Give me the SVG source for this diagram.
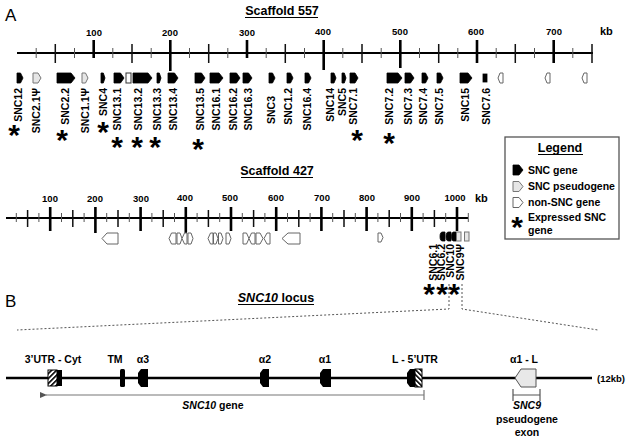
<svg xmlns="http://www.w3.org/2000/svg" width="629" height="442" viewBox="0 0 629 442">
<style>
text{font-family:"Liberation Sans",Arial,sans-serif;font-weight:bold;fill:#000}
.lb{font-size:10.5px}
.ax{font-size:9.5px;text-anchor:middle}
.kb{font-size:11px}
.ttl{font-size:12.5px;text-anchor:middle}
.big{font-size:17px;font-weight:normal}
.ast{font-size:30px;text-anchor:middle}
.mid{text-anchor:middle}
.axl{stroke:#000;stroke-width:2.2;fill:none}
.maj{stroke:#000;stroke-width:2.6;fill:none}
.med{stroke:#111;stroke-width:1.5;fill:none}
.sml{stroke:#555;stroke-width:1;fill:none}
.snc{fill:#000;stroke:#000;stroke-width:0.8}
.psd{fill:#e6e6e6;stroke:#777;stroke-width:1}
.non{fill:#fff;stroke:#666;stroke-width:1}
.ul{stroke:#000;stroke-width:1.2}
.dash{stroke:#555;stroke-width:1;stroke-dasharray:2,2;fill:none}
.gl{stroke:#777;stroke-width:1.2;fill:none}
</style>
<defs>
<pattern id="hatchA" patternUnits="userSpaceOnUse" width="3.5" height="3.5" patternTransform="rotate(45)">
<rect width="3.5" height="3.5" fill="#fff"/><rect width="1.6" height="3.5" fill="#000"/>
</pattern>
<pattern id="hatchB" patternUnits="userSpaceOnUse" width="3.5" height="3.5" patternTransform="rotate(-45)">
<rect width="3.5" height="3.5" fill="#fff"/><rect width="1.6" height="3.5" fill="#000"/>
</pattern>
<marker id="arrL" markerWidth="8" markerHeight="6" refX="1" refY="3" orient="auto-start-reverse" markerUnits="userSpaceOnUse">
<path d="M7,0 L0,3 L7,6 Z" fill="#555"/>
</marker>
</defs>

<rect width="629" height="442" fill="#fff"/>

<text class="big" x="5" y="21">A</text>
<text class="big" x="5" y="307">B</text>

<!-- Scaffold 557 -->
<g id="scaffold557-axis">
<text class="ttl" x="282" y="15">Scaffold 557</text>
<line class="ul" x1="245" y1="17.5" x2="318" y2="17.5"/>
<line class="axl" x1="17" y1="53" x2="593" y2="53"/>
<path class="sml" d="M36.2 48V58M74.5 48V58M112.8 48V58M151.2 48V58M189.5 48V58M227.8 48V58M266.2 48V58M304.5 48V58M342.8 48V58M381.2 48V58M419.5 48V58M457.8 48V58M496.2 48V58M534.5 48V58M572.8 48V58"/>
<path class="med" d="M55.3 44V63M132 44V63M208.7 44V63M285.3 44V63M362 44V63M438.7 44V63M515.3 44V63M592 44V63"/>
<path class="maj" d="M93.7 40V58M170.3 40V71M247 40V58M323.7 40V70M400.3 40V68M477 40V63M553.7 40V63"/>
<text class="ax" x="94" y="36">100</text>
<text class="ax" x="170" y="36">200</text>
<text class="ax" x="247" y="36">300</text>
<text class="ax" x="323" y="35">400</text>
<text class="ax" x="400" y="35">500</text>
<text class="ax" x="476" y="35">600</text>
<text class="ax" x="554" y="35">700</text>
<text class="kb" x="600" y="35">kb</text>
</g>

<g id="g-SNC12"><path class="snc" d="M17 73H20.5L23 78L20.5 83H17Z"/><text class="lb" text-anchor="end" transform="translate(21.8,88) rotate(-90)">SNC12</text><text class="ast" x="14" y="145">*</text></g>
<g id="g-SNC2.1"><path class="psd" d="M33 73H38L41 78L38 83H33Z"/><text class="lb" text-anchor="end" transform="translate(39.8,88) rotate(-90)">SNC2.1Ψ</text></g>
<g id="g-SNC2.2"><path class="snc" d="M57 73H71L75 78L71 83H57Z"/><text class="lb" text-anchor="end" transform="translate(68.8,88) rotate(-90)">SNC2.2</text><text class="ast" x="62" y="150">*</text></g>
<g id="g-SNC1.1"><path class="psd" d="M82 73H85.5L88 78L85.5 83H82Z"/><text class="lb" text-anchor="end" transform="translate(88.8,88) rotate(-90)">SNC1.1Ψ</text></g>
<g id="g-SNC4"><path class="snc" d="M101 73H103.3L105 78L103.3 83H101Z"/><text class="lb" text-anchor="end" transform="translate(106.8,88) rotate(-90)">SNC4</text><text class="ast" x="103" y="142">*</text></g>
<g id="g-SNC13.1"><path class="snc" d="M114 73H120.5L124 78L120.5 83H114Z"/><text class="lb" text-anchor="end" transform="translate(120.8,88) rotate(-90)">SNC13.1</text><text class="ast" x="117" y="157">*</text></g>
<g id="g-box557"><rect class="non" x="126" y="73" width="5" height="10" style="stroke:#333"/></g>
<g id="g-SNC13.2"><path class="snc" d="M133 73H148L152 78L148 83H133Z"/><text class="lb" text-anchor="end" transform="translate(141.8,88) rotate(-90)">SNC13.2</text><text class="ast" x="137" y="157">*</text></g>
<g id="g-SNC13.3"><path class="snc" d="M157 73H159.3L161 78L159.3 83H157Z"/><text class="lb" text-anchor="end" transform="translate(160.8,88) rotate(-90)">SNC13.3</text><text class="ast" x="155" y="157">*</text></g>
<g id="g-SNC13.4"><path class="snc" d="M168 73H174.5L178 78L174.5 83H168Z"/><text class="lb" text-anchor="end" transform="translate(176.8,88) rotate(-90)">SNC13.4</text></g>
<g id="g-SNC13.5"><path class="snc" d="M195 73H201.5L205 78L201.5 83H195Z"/><text class="lb" text-anchor="end" transform="translate(203.8,88) rotate(-90)">SNC13.5</text><text class="ast" x="198" y="159">*</text></g>
<g id="g-SNC16.1"><path class="snc" d="M210 73H219L223 78L219 83H210Z"/><text class="lb" text-anchor="end" transform="translate(219.8,88) rotate(-90)">SNC16.1</text></g>
<g id="g-SNC16.2"><path class="snc" d="M230 73H236.5L240 78L236.5 83H230Z"/><text class="lb" text-anchor="end" transform="translate(236.8,88) rotate(-90)">SNC16.2</text></g>
<g id="g-SNC16.3"><path class="snc" d="M243 73H248.5L252 78L248.5 83H243Z"/><text class="lb" text-anchor="end" transform="translate(251.8,88) rotate(-90)">SNC16.3</text></g>
<g id="g-SNC3"><path class="snc" d="M269 73H272.5L275 78L272.5 83H269Z"/><text class="lb" text-anchor="end" transform="translate(274.8,96) rotate(-90)">SNC3</text></g>
<g id="g-SNC1.2"><path class="snc" d="M287 73H290.5L293 78L290.5 83H287Z"/><text class="lb" text-anchor="end" transform="translate(291.8,88) rotate(-90)">SNC1.2</text></g>
<g id="g-SNC16.4"><path class="snc" d="M305 73H308.5L311 78L308.5 83H305Z"/><text class="lb" text-anchor="end" transform="translate(310.8,88) rotate(-90)">SNC16.4</text></g>
<g id="g-SNC14"><path class="snc" d="M331 73H334L336 78L334 83H331Z"/><text class="lb" text-anchor="end" transform="translate(333.8,88) rotate(-90)">SNC14</text></g>
<g id="g-SNC5"><path class="snc" d="M342 73H344.3L346 78L344.3 83H342Z"/><text class="lb" text-anchor="end" transform="translate(345.8,88) rotate(-90)">SNC5</text></g>
<g id="g-SNC7.1"><path class="snc" d="M350 73H355L358 78L355 83H350Z"/><text class="lb" text-anchor="end" transform="translate(356.8,88) rotate(-90)">SNC7.1</text><text class="ast" x="357" y="150">*</text></g>
<g id="g-SNC7.2"><path class="snc" d="M387 73H398L402 78L398 83H387Z"/><text class="lb" text-anchor="end" transform="translate(392.8,88) rotate(-90)">SNC7.2</text><text class="ast" x="389" y="153">*</text></g>
<g id="g-SNC7.3"><path class="snc" d="M405 73H410.5L414 78L410.5 83H405Z"/><text class="lb" text-anchor="end" transform="translate(411.8,88) rotate(-90)">SNC7.3</text></g>
<g id="g-SNC7.4"><path class="snc" d="M422 73H425.5L428 78L425.5 83H422Z"/><text class="lb" text-anchor="end" transform="translate(426.8,88) rotate(-90)">SNC7.4</text></g>
<g id="g-SNC7.5"><path class="snc" d="M437 73H440.5L443 78L440.5 83H437Z"/><text class="lb" text-anchor="end" transform="translate(442.8,88) rotate(-90)">SNC7.5</text></g>
<g id="g-SNC15"><path class="snc" d="M460 73H468L472 78L468 83H460Z"/><text class="lb" text-anchor="end" transform="translate(468.8,88) rotate(-90)">SNC15</text></g>
<g id="g-SNC7.6"><rect class="snc" x="483" y="74" width="4" height="8"/><text class="lb" text-anchor="end" transform="translate(489.8,88) rotate(-90)">SNC7.6</text></g>
<g id="g-non557-1"><path class="non" d="M498 78L500 73H503V83H500Z"/></g>
<g id="g-non557-2"><path class="non" d="M545 78L547 73H550V83H547Z"/></g>
<g id="g-non557-3"><path class="non" d="M582 78L584 73H587V83H584Z"/></g>

<!-- Scaffold 427 -->
<g id="scaffold427-axis">
<text class="ttl" x="277" y="175">Scaffold 427</text>
<line class="ul" x1="241" y1="177.5" x2="313" y2="177.5"/>
<line class="axl" x1="6" y1="218" x2="468" y2="218"/>
<path class="sml" d="M16.3 213V222M38.9 213V222M61.5 213V222M84.1 213V222M106.7 213V222M129.3 213V222M151.9 213V222M174.5 213V222M197.1 213V222M219.7 213V222M242.3 213V222M264.9 213V222M287.5 213V222M310.1 213V222M332.7 213V222M355.3 213V222M377.9 213V222M400.5 213V222M423.1 213V222M445.7 213V222M468.3 213V222"/>
<path class="med" d="M27.6 210V227M72.8 210V227M118 210V227M163.2 210V227M208.4 210V227M253.6 210V227M298.8 210V227M344 210V227M389.2 210V227M434.4 210V227"/>
<path class="maj" d="M50.2 207V231M95.4 207V233M140.6 207V231M185.8 207V233M231 207V231M276.2 207V231M321.4 207V231M366.6 207V231M411.8 207V231M457 207V231"/>
<text class="ax" x="50" y="202">100</text>
<text class="ax" x="95" y="202">200</text>
<text class="ax" x="141" y="202">300</text>
<text class="ax" x="185" y="201">400</text>
<text class="ax" x="230" y="201">500</text>
<text class="ax" x="276" y="201">600</text>
<text class="ax" x="322" y="201">700</text>
<text class="ax" x="367" y="201">800</text>
<text class="ax" x="412" y="201">900</text>
<text class="ax" x="455" y="201">1000</text>
<text class="kb" x="475" y="202">kb</text>
</g>

<g id="g-non427">
<path class="non" d="M102 238.5L107 233H118V244H107Z"/>
<path class="non" d="M169 238.5L171.5 233H176V244H171.5Z"/>
<path class="non" d="M177 233H180L182 238.5L180 244H177Z"/>
<path class="non" d="M182 238.5L184.5 233H187V244H184.5Z"/>
<path class="non" d="M188 233H191L193 238.5L191 244H188Z"/>
<path class="non" d="M208 238.5L210.5 233H213V244H210.5Z"/>
<path class="non" d="M213.5 233H216L218 238.5L216 244H213.5Z"/>
<path class="non" d="M218.5 233H221L223 238.5L221 244H218.5Z"/>
<path class="non" d="M226 233H229L231 238.5L229 244H226Z"/>
<path class="non" d="M243 233H246.5L249 238.5L246.5 244H243Z"/>
<path class="non" d="M249 238.5L251.5 233H255V244H251.5Z"/>
<path class="non" d="M256 233H260L263 238.5L260 244H256Z"/>
<path class="non" d="M264 238.5L267 233H270V244H267Z"/>
<path class="non" d="M282 238.5L288 233H300V244H288Z"/>
<path class="non" d="M378 233H381L383 237.5L381 242H378Z"/>
</g>

<g id="g-SNC6.1"><path class="snc" d="M445 232V241H442.5Q440 241 440 236.5Q440 232 442.5 232Z"/><text class="lb" text-anchor="end" transform="translate(436.5,244) rotate(-90)">SNC6.1</text><text class="ast" x="429" y="304">*</text></g>
<g id="g-SNC6.2"><path class="snc" d="M451 232V241H448.5Q446 241 446 236.5Q446 232 448.5 232Z"/><text class="lb" text-anchor="end" transform="translate(444.8,244) rotate(-90)">SNC6.2</text><text class="ast" x="442" y="304">*</text></g>
<g id="g-SNC10"><path class="snc" d="M456 232V241H453.5Q451.5 241 451.5 236.5Q451.5 232 453.5 232Z"/><rect class="psd" x="456.5" y="232" width="4.5" height="9"/><text class="lb" text-anchor="end" transform="translate(453.8,244) rotate(-90)">SNC10</text><text class="ast" x="454" y="304">*</text></g>
<g id="g-SNC9"><rect class="psd" x="464.5" y="232" width="4.5" height="9"/><text class="lb" text-anchor="end" transform="translate(463.5,244) rotate(-90)">SNC9Ψ</text></g>

<!-- Legend -->
<g id="legend">
<rect x="505" y="137" width="114" height="102" fill="#fff" stroke="#555" stroke-width="1.3"/>
<text class="ttl" x="560" y="152">Legend</text>
<line class="ul" x1="538" y1="154.5" x2="583" y2="154.5"/>
<path class="snc" d="M513 165H519L523 170L519 175H513Z"/>
<text class="lb" x="528" y="174">SNC gene</text>
<path class="psd" d="M513 181.5H519L523 186.5L519 191.5H513Z"/>
<text class="lb" x="528" y="190">SNC pseudogene</text>
<path class="non" d="M513 197.5H519L523 202.5L519 207.5H513Z"/>
<text class="lb" x="528" y="206">non-SNC gene</text>
<text class="ast" x="517" y="237">*</text>
<text class="lb" x="528" y="221">Expressed SNC</text>
<text class="lb" x="528" y="234">gene</text>
</g>

<!-- connectors -->
<g id="connectors">
<path class="dash" d="M449 284V309L17 330"/>
<path class="dash" d="M462 284V309L598 330"/>
</g>

<!-- Part B -->
<g id="locus-title">
<text class="ttl" x="276" y="302"><tspan font-style="italic">SNC10</tspan> locus</text>
<line class="ul" x1="238" y1="304.5" x2="314" y2="304.5"/>
</g>
<g id="locus-line">
<line x1="6" y1="378" x2="592" y2="378" stroke="#000" stroke-width="2.5"/>
<text x="597" y="382" style="font-size:9.5px">(12kb)</text>
</g>
<g id="ex-3UTR"><rect x="48" y="370" width="9" height="16" fill="url(#hatchA)" stroke="#000" stroke-width="1"/><rect x="57" y="370" width="5" height="16" fill="#000"/><text class="lb mid" x="53" y="363">3’UTR - Cyt</text></g>
<g id="ex-TM"><rect x="120" y="369" width="5" height="18" rx="1.5" fill="#000"/><text class="lb mid" x="115" y="363">TM</text></g>
<g id="ex-a3"><path d="M141 369H148V387H141L138 383V373Z" fill="#000"/><text class="lb mid" x="143" y="363">α3</text></g>
<g id="ex-a2"><path d="M263 369H269V387H263L260 383V373Z" fill="#000"/><text class="lb mid" x="265" y="363">α2</text></g>
<g id="ex-a1"><path d="M323 369H331V387H323L320 383V373Z" fill="#000"/><text class="lb mid" x="325" y="363">α1</text></g>
<g id="ex-L5UTR"><path d="M410 369H415V387H410L407 383V373Z" fill="#000"/><rect x="415" y="369" width="7" height="18" fill="url(#hatchB)" stroke="#000" stroke-width="1"/><text class="lb mid" x="415" y="363">L - 5’UTR</text></g>
<g id="ex-a1L"><path d="M521 369H536V387H521L515 378Z" fill="#e8e8e8" stroke="#555" stroke-width="1"/><text class="lb mid" x="524" y="363">α1 - L</text></g>

<g id="snc10-gene">
<line class="gl" x1="424" y1="395" x2="46" y2="395" marker-end="url(#arrL)"/>
<line class="gl" x1="424" y1="390" x2="424" y2="400"/>
<text class="lb mid" x="213" y="409"><tspan font-style="italic">SNC10</tspan> gene</text>
</g>
<g id="snc9-exon">
<path class="gl" d="M513 389V401M513 395H540M540 389V401" style="stroke:#555"/>
<text class="lb mid" x="527" y="409" font-style="italic">SNC9</text>
<text class="lb mid" x="527" y="423">pseudogene</text>
<text class="lb mid" x="527" y="436">exon</text>
</g>
</svg>
